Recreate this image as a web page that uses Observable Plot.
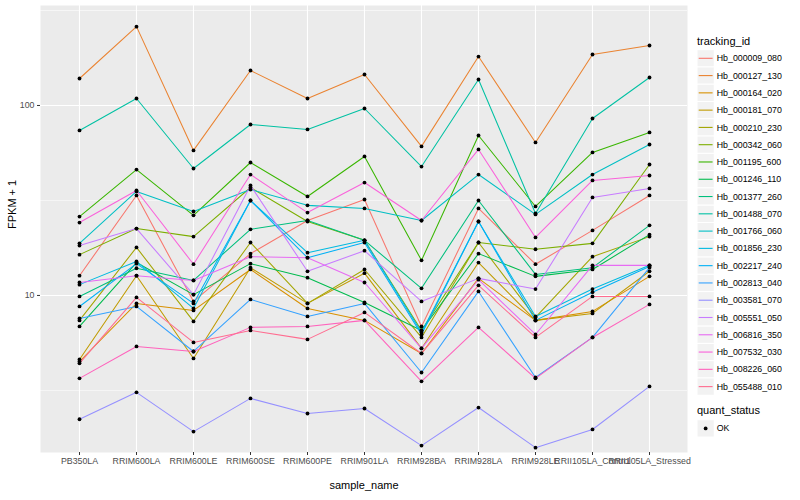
<!DOCTYPE html>
<html><head><meta charset="utf-8">
<script src="https://cdn.jsdelivr.net/npm/d3@7"></script>
<script src="https://cdn.jsdelivr.net/npm/@observablehq/plot@0.6"></script>
<style>
body{margin:0;background:#fff;font-family:"Liberation Sans",Arial,sans-serif;}
#wrap{position:relative;width:800px;height:500px;overflow:hidden;}
#legend{position:absolute;left:0;top:0;}
</style></head><body>
<div id="wrap"><div id="chart"></div><svg id="legend" width="800" height="500"></svg></div>
<script>
const samples = ["PB350LA","RRIM600LA","RRIM600LE","RRIM600SE","RRIM600PE","RRIM901LA","RRIM928BA","RRIM928LA","RRIM928LE","RRII105LA_Control","RRII105LA_Stressed"];
const trackingIds = ["Hb_000009_080","Hb_000127_130","Hb_000164_020","Hb_000181_070","Hb_000210_230","Hb_000342_060","Hb_001195_600","Hb_001246_110","Hb_001377_260","Hb_001488_070","Hb_001766_060","Hb_001856_230","Hb_002217_240","Hb_002813_040","Hb_003581_070","Hb_005551_050","Hb_006816_350","Hb_007532_030","Hb_008226_060","Hb_055488_010"];
const palette = ["#F8766D","#EA8331","#D89000","#C09B00","#A3A500","#7CAE00","#39B600","#00BB4E","#00BF7D","#00C1A3","#00BFC4","#00BAE0","#00B0F6","#35A2FF","#9590FF","#C77CFF","#E76BF3","#FA62DB","#FF62BC","#FF6C90"];
const yTicks = [10, 100];
const yMinorTicks = [3.162, 31.62, 316.2];

const hb000009 = [12.7, 33.6, 9.30, 16.6, 24.8, 32.0, 6.87, 28.7, 14.6, 22.0, 33.6];
const hb000127 = [138.7, 260, 58.0, 152.8, 108.8, 145.6, 60.9, 181, 63.9, 185.5, 206.9];
const hb000164 = [4.49, 9.08, 8.34, 13.7, 8.54, 7.39, 4.95, 12.3, 7.39, 8.24, 12.6];
const hb000181 = [4.60, 12.7, 4.66, 14.0, 9.08, 13.1, 5.26, 14.9, 7.39, 8.04, 13.4];
const hb000210 = [7.39, 17.9, 7.30, 19.0, 9.08, 13.7, 6.01, 19.0, 7.66, 16.0, 20.4];
const hb000342 = [16.4, 22.5, 20.4, 37.0, 24.5, 19.5, 6.54, 19.0, 17.5, 18.8, 48.9];
const hb001195 = [26.0, 46.0, 26.4, 50.1, 33.2, 53.9, 15.3, 69.5, 29.4, 56.6, 72.1];
const hb001246 = [6.87, 14.9, 10.1, 14.7, 12.4, 9.19, 6.54, 16.6, 12.6, 13.7, 20.9];
const hb001377 = [9.88, 13.9, 12.0, 22.3, 24.8, 19.5, 10.9, 31.6, 12.9, 14.0, 23.4];
const hb001488 = [73.9, 108.8, 46.6, 79.4, 74.8, 96.4, 47.7, 137, 27.0, 85.4, 140.4];
const hb001766 = [18.8, 35.3, 27.7, 36.1, 29.8, 28.7, 24.8, 43.3, 26.7, 43.3, 62.3];
const hb001856 = [11.4, 15.1, 8.54, 31.6, 16.8, 19.5, 6.39, 24.5, 7.75, 10.8, 14.4];
const hb002217 = [8.75, 14.7, 9.08, 31.6, 15.8, 19.0, 6.23, 24.5, 7.39, 10.4, 14.2];
const hb002813 = [7.57, 8.75, 5.07, 9.53, 7.75, 9.08, 3.93, 10.5, 3.70, 6.01, 14.0];
const hb003581 = [2.23, 3.09, 1.92, 2.87, 2.39, 2.54, 1.62, 2.57, 1.58, 1.97, 3.32];
const hb005551 = [18.3, 22.5, 10.1, 37.9, 13.4, 17.2, 9.30, 12.3, 10.8, 32.8, 36.6];
const hb006816 = [11.7, 12.7, 12.0, 16.0, 15.8, 11.7, 5.26, 12.1, 6.23, 14.4, 14.4];
const hb007532 = [24.2, 35.7, 14.6, 43.3, 27.3, 39.3, 24.8, 58.7, 20.2, 40.3, 42.8];
const hb008226 = [3.66, 5.39, 5.07, 6.79, 6.87, 7.39, 3.53, 6.79, 3.66, 6.01, 8.97];
const hb055488 = [4.39, 9.76, 5.66, 6.54, 5.87, 8.14, 4.95, 11.3, 6.01, 9.88, 9.88];

const seriesValues = [hb000009, hb000127, hb000164, hb000181, hb000210, hb000342, hb001195, hb001246, hb001377, hb001488, hb001766, hb001856, hb002217, hb002813, hb003581, hb005551, hb006816, hb007532, hb008226, hb055488];

const data = [];
trackingIds.forEach((id, i) => {
  seriesValues[i].forEach((v, j) => data.push({id, sample: samples[j], value: v, status: "OK"}));
});

const font = '"Liberation Sans", Arial, sans-serif';
const chart = Plot.plot({
  width: 800, height: 500,
  marginLeft: 40, marginRight: 113, marginTop: 5, marginBottom: 48,
  style: {fontFamily: font, fontSize: "8.8px", background: "white", color: "#000"},
  x: {type: "point", domain: samples, padding: 0.6, label: null},
  y: {type: "log", domain: [1.49, 336], label: null},
  color: {domain: trackingIds, range: palette},
  marks: [
    Plot.frame({fill: "#EBEBEB", stroke: "none"}),
    Plot.gridY(yMinorTicks, {stroke: "white", strokeOpacity: 1, strokeWidth: 0.55}),
    Plot.gridY(yTicks, {stroke: "white", strokeOpacity: 1, strokeWidth: 1.1}),
    Plot.gridX(samples, {stroke: "white", strokeOpacity: 1, strokeWidth: 1.1}),
    Plot.line(data, {x: "sample", y: "value", z: "id", stroke: "id", strokeWidth: 1.05}),
    Plot.dot(data, {x: "sample", y: "value", fill: "black", r: 1.9}),
    Plot.axisX(samples, {tickSize: 3, tickPadding: 2, stroke: "#333333", fill: "#4D4D4D", label: null, fontSize: 8.8}),
    Plot.axisY(yTicks, {tickSize: 3, tickPadding: 3, stroke: "#333333", fill: "#4D4D4D", label: null, tickFormat: d => String(d), fontSize: 8.8}),
    Plot.text(["FPKM + 1"], {frameAnchor: "left", dx: -28, rotate: -90, fontSize: 11, fill: "black"}),
    Plot.text(["sample_name"], {frameAnchor: "bottom", dy: 36, fontSize: 11, fill: "black"})
  ]
});
document.getElementById("chart").appendChild(chart);

// legend (ggplot style, on the right)
const lg = d3.select("#legend").style("font-family", font);
const keyX = 697, keySize = 17.28, y0 = 58.3;
lg.append("text").attr("x", keyX).attr("y", 40.7).attr("dy", "0.35em").attr("font-size", 11).text("tracking_id");
trackingIds.forEach((id, i) => {
  const cy = y0 + keySize * i;
  lg.append("rect").attr("x", keyX).attr("y", cy - keySize / 2).attr("width", keySize).attr("height", keySize)
    .attr("fill", "#F2F2F2").attr("stroke", "white").attr("stroke-width", 1);
  lg.append("line").attr("x1", keyX + 1.7).attr("x2", keyX + keySize - 1.7).attr("y1", cy).attr("y2", cy)
    .attr("stroke", palette[i]).attr("stroke-width", 1.1);
  lg.append("text").attr("x", keyX + keySize + 2.5).attr("y", cy).attr("dy", "0.35em").attr("font-size", 8.8).text(id);
});
lg.append("text").attr("x", keyX).attr("y", 410).attr("dy", "0.35em").attr("font-size", 11).text("quant_status");
const qy = 428.4;
lg.append("rect").attr("x", keyX).attr("y", qy - keySize / 2).attr("width", keySize).attr("height", keySize)
  .attr("fill", "#F2F2F2").attr("stroke", "white").attr("stroke-width", 1);
lg.append("circle").attr("cx", keyX + keySize / 2).attr("cy", qy).attr("r", 1.9).attr("fill", "black");
lg.append("text").attr("x", keyX + keySize + 2.5).attr("y", qy).attr("dy", "0.35em").attr("font-size", 8.8).text("OK");
</script>
</body></html>
